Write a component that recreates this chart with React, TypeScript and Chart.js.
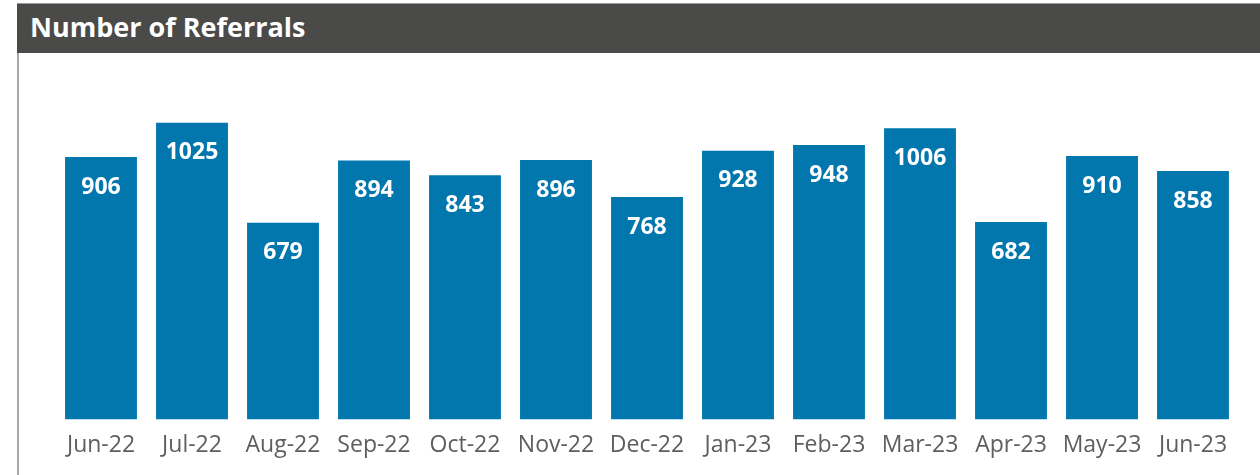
import React, { useEffect, useRef } from "react";
import { Chart, registerables } from "chart.js";

Chart.register(...registerables);

const categories = ["Jun-22", "Jul-22", "Aug-22", "Sep-22", "Oct-22", "Nov-22", "Dec-22", "Jan-23", "Feb-23", "Mar-23", "Apr-23", "May-23", "Jun-23"];
const referrals = [906, 1025, 679, 894, 843, 896, 768, 928, 948, 1006, 682, 910, 858];
const title = "Number of Referrals";

const barLabels = {
  id: "barLabels",
  afterDatasetsDraw(chart: any) {
    const ctx = chart.ctx;
    const meta = chart.getDatasetMeta(0);
    ctx.save();
    ctx.fillStyle = "#ffffff";
    ctx.font = "bold 23px 'Open Sans'";
    ctx.textAlign = "center";
    ctx.textBaseline = "middle";
    meta.data.forEach((bar: any, i: number) => {
      ctx.fillText(String(referrals[i]), bar.x, bar.y + 30);
    });
    ctx.restore();
  },
};

export default function App() {
  const ref = useRef<HTMLCanvasElement>(null);
  useEffect(() => {
    const chart = new Chart(ref.current!, {
      type: "bar",
      data: {
        labels: categories,
        datasets: [
          {
            data: referrals,
            backgroundColor: "#0177ae",
            categoryPercentage: 1,
            barPercentage: 0.79,
          },
        ],
      },
      options: {
        animation: false,
        responsive: false,
        maintainAspectRatio: false,
        layout: { padding: { left: 36.5, right: 21.5, top: 19, bottom: 4 } },
        plugins: { legend: { display: false }, tooltip: { enabled: false } },
        scales: {
          x: {
            grid: { display: false, drawTicks: false },
            border: { display: false },
            ticks: {
              color: "#605e5c",
              font: { family: "'Open Sans'", size: 23 },
              padding: 12,
              maxRotation: 0,
              autoSkip: false,
            },
          },
          y: { display: false, min: 0, max: 1200 },
        },
      },
      plugins: [barLabels],
    });
    return () => chart.destroy();
  }, []);

  return (
    <div style={{ position: "absolute", left: 0, top: 0, width: 1260, height: 475, background: "#fff", overflow: "hidden" }}>
      <div
        style={{
          position: "absolute",
          left: 17,
          top: 3,
          width: 1243,
          height: 50,
          background: "#4a4a48",
          borderTop: "1px solid #9a9a9a",
          boxSizing: "border-box",
          color: "#fff",
          fontFamily: "'Open Sans'",
          fontWeight: 700,
          fontSize: 27,
          lineHeight: "46px",
          paddingLeft: 13,
        }}
      >
        {title}
      </div>
      <div style={{ position: "absolute", left: 17, top: 53, width: 2, height: 422, background: "#a6a6a6" }} />
      <canvas ref={ref} width={1241} height={422} style={{ position: "absolute", left: 19, top: 53, width: 1241, height: 422 }} />
    </div>
  );
}
